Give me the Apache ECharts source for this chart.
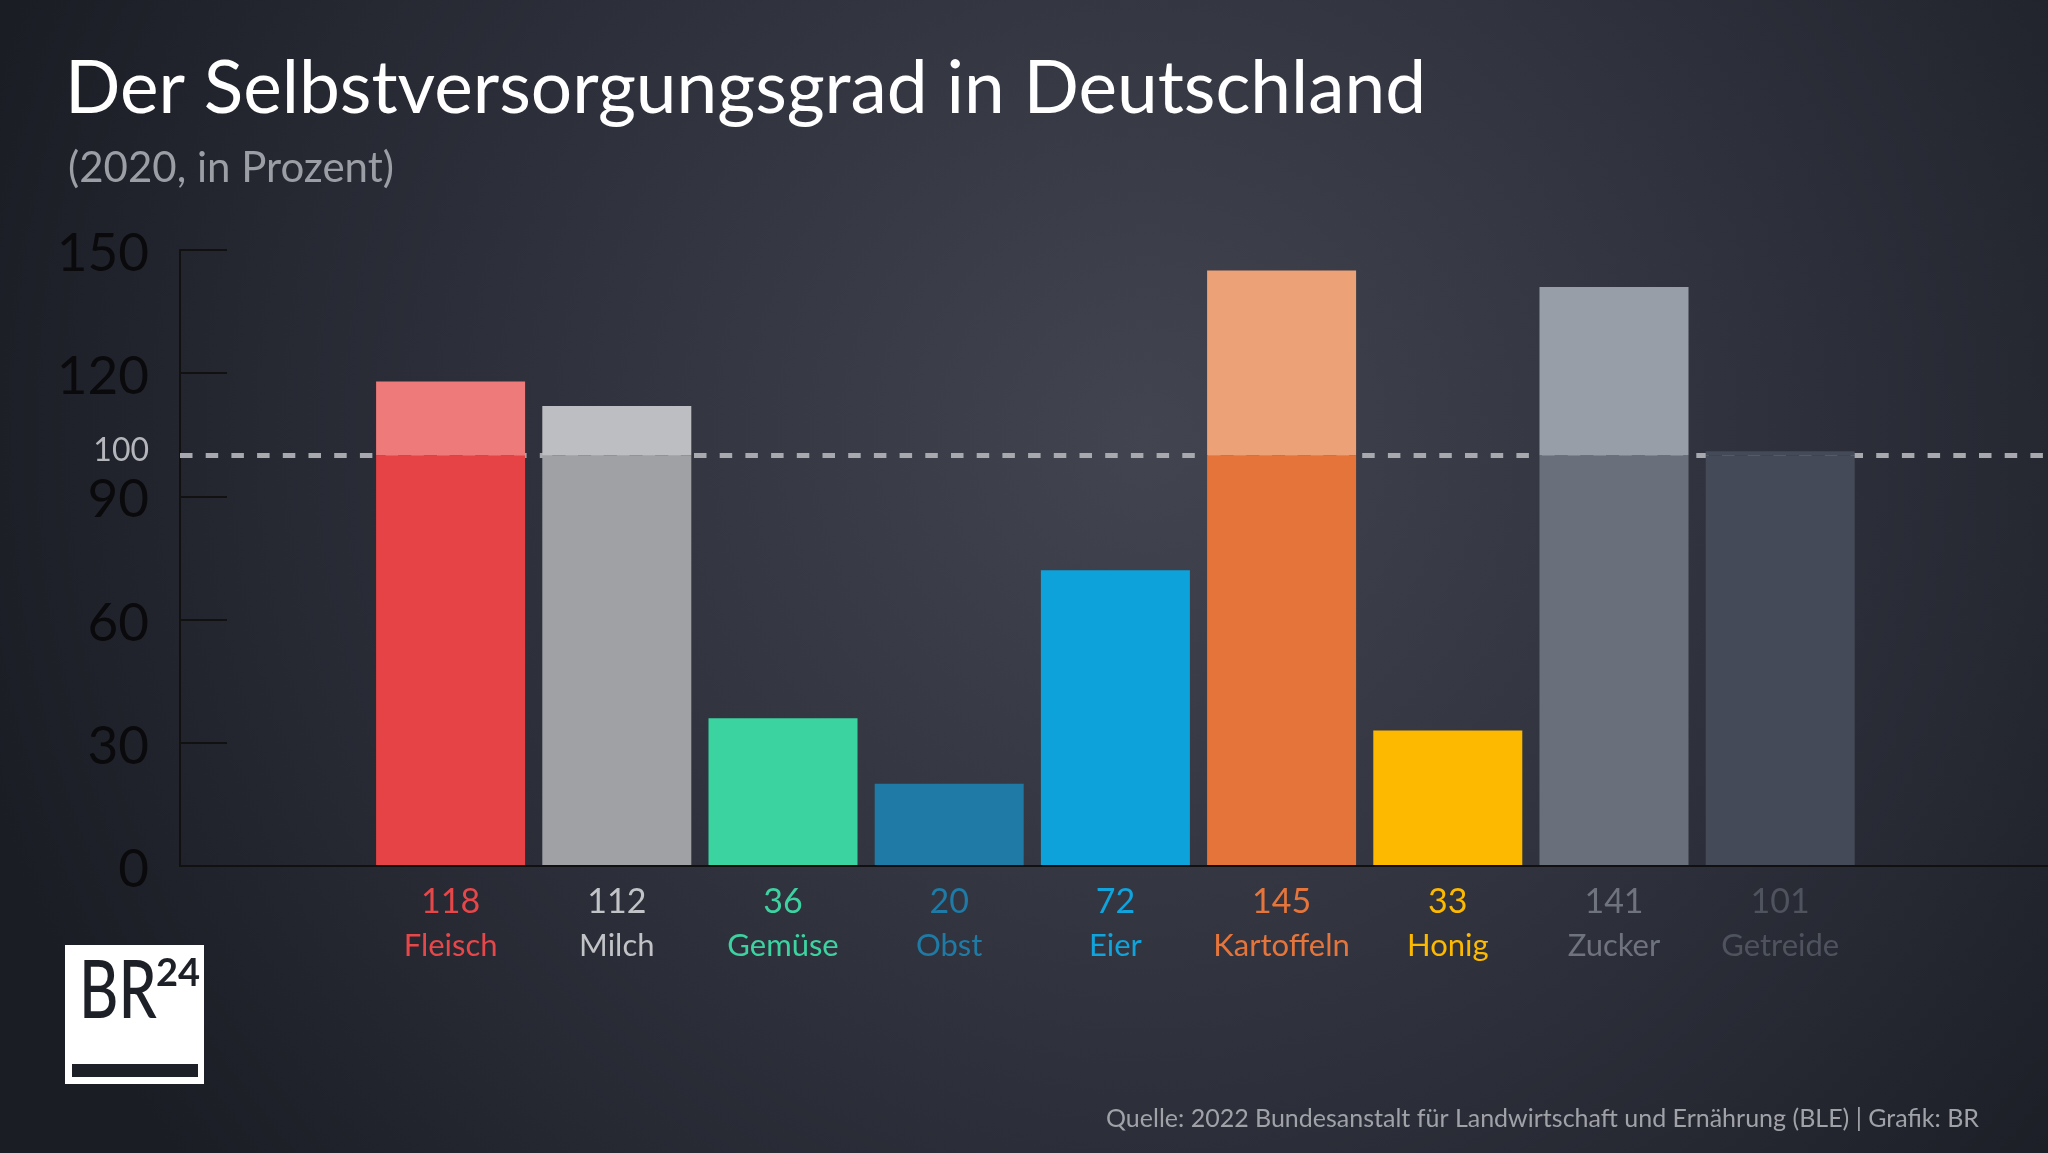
<!DOCTYPE html>
<html><head><meta charset="utf-8">
<script src="https://cdn.jsdelivr.net/npm/echarts@6/dist/echarts.min.js"></script>
<style>html,body{margin:0;padding:0;background:#2b2e3a}#c{width:2048px;height:1153px}</style>
</head><body><div id="c"></div>
<script>
const categories = ['Fleisch','Milch','Gemüse','Obst','Eier','Kartoffeln','Honig','Zucker','Getreide'];
const values = [118,112,36,20,72,145,33,141,101];
const baseColors = ['#e54345','#9fa1a5','#3bd3a0','#1f7aa5','#0ea2db','#e5743a','#fdb900','#6a707b','#454a58'];
const topColors  = ['#ee7b7a','#bdbec2','#3bd3a0','#1f7aa5','#0ea2db','#eda176','#fdb900','#979ea7','#454a58'];
const labelColors = ['#e8474a','#c2c3c7','#3ed2a1','#1f7aa5','#10a3dc','#e6753b','#fdb900','#6f737d','#4f535e'];
const yTickValues = [0,30,60,90,120,150];
const yLabelValues = [0,30,60,90,100,120,150];
const referenceLevel = 100;
const titleText = 'Der Selbstversorgungsgrad in Deutschland';
const subtitleText = '(2020, in Prozent)';
const sourceText = 'Quelle: 2022 Bundesanstalt für Landwirtschaft und Ernährung (BLE) | Grafik: BR';

const FONT = 'Lato, "Liberation Sans", sans-serif';
const chart = echarts.init(document.getElementById('c'), null, {renderer:'canvas'});

const baseData = values.map((v,i)=>({value: Math.min(v, referenceLevel), itemStyle:{color: baseColors[i]}}));
const topData = values.map((v,i)=>({value: Math.max(v - referenceLevel, 0), itemStyle:{color: topColors[i]}}));

chart.setOption({
  backgroundColor: {type:'radial', x:0.56, y:0.38, r:1.05, colorStops:[
    {offset:0, color:'#42454f'},{offset:0.45, color:'#31343f'},{offset:1, color:'#1b1d25'}]},
  animation:false,
  grid:[
    {left:180, right:0, top:250, bottom:287},
    {left:367.5, width:1495.8, top:250, bottom:287}
  ],
  xAxis:[
    {gridIndex:0, type:'value', min:0, max:1, z:5,
      axisLine:{show:true, lineStyle:{color:'#111111', width:2}},
      axisTick:{show:false}, axisLabel:{show:false}, splitLine:{show:false}},
    {gridIndex:1, type:'category', data:categories,
      axisLine:{show:false}, axisTick:{show:false},
      axisLabel:{margin:15, interval:0,
        color:(v,i)=>labelColors[categories.indexOf(v)],
        formatter:(v,i)=>'{v|'+values[i]+'}\n{n|'+v+'}',
        rich:{v:{fontFamily:FONT, fontSize:34, lineHeight:43}, n:{fontFamily:FONT, fontSize:31, lineHeight:43}}}}
  ],
  yAxis:[
    {gridIndex:0, type:'value', min:0, max:150, interval:30,
      axisLine:{show:true, lineStyle:{color:'#111111', width:2}},
      axisTick:{show:true, inside:true, length:47, customValues:yTickValues, lineStyle:{color:'#111111', width:2}},
      axisLabel:{margin:31, customValues:yLabelValues,
        formatter:v=> v===referenceLevel ? '{s|'+v+'}' : '{b|'+v+'}',
        rich:{b:{fontFamily:FONT, fontSize:53, color:'#0a0a0c', padding:[8,0,0,0]}, s:{fontFamily:FONT, fontSize:32, color:'#b4b6bb', padding:[0,0,10,0]}}},
      splitLine:{show:false}},
    {gridIndex:1, type:'value', min:0, max:150, interval:30, show:false, splitLine:{show:false}}
  ],
  series:[
    {type:'line', xAxisIndex:0, yAxisIndex:0, data:[], z:1, silent:true,
      markLine:{symbol:'none', silent:true, z:1, label:{show:false},
        lineStyle:{type:[12.5,13.2], color:'#a7a9ae', width:5, opacity:1},
        emphasis:{disabled:true},
        data:[{yAxis:referenceLevel}]}},
    {type:'bar', xAxisIndex:1, yAxisIndex:1, stack:'v', data:baseData, barWidth:149, z:3},
    {type:'bar', xAxisIndex:1, yAxisIndex:1, stack:'v', data:topData, barWidth:149, z:3}
  ],
  graphic:[
    {type:'text', left:65, top:53, style:{text:titleText, font:'73px '+FONT, fill:'#ffffff'}},
    {type:'text', left:68, top:147, style:{text:subtitleText, font:'42px '+FONT, fill:'#9c9ea5'}},
    {type:'text', right:69, top:1106, style:{text:sourceText, font:'25px '+FONT, fill:'#a0a2a8'}},
    {type:'group', left:65, top:945, children:[
      {type:'rect', shape:{x:0, y:0, width:139, height:139}, style:{fill:'#ffffff'}},
      {type:'text', x:14, y:6, scaleX:0.74, style:{text:'BR', font:'500 82px '+FONT, fill:'#1e2028'}},
      {type:'text', x:91, y:10, style:{text:'24', font:'bold 38px '+FONT, fill:'#1e2028'}},
      {type:'rect', shape:{x:7, y:119, width:126, height:13}, style:{fill:'#1e2028'}}
    ]}
  ]
});
</script></body></html>
